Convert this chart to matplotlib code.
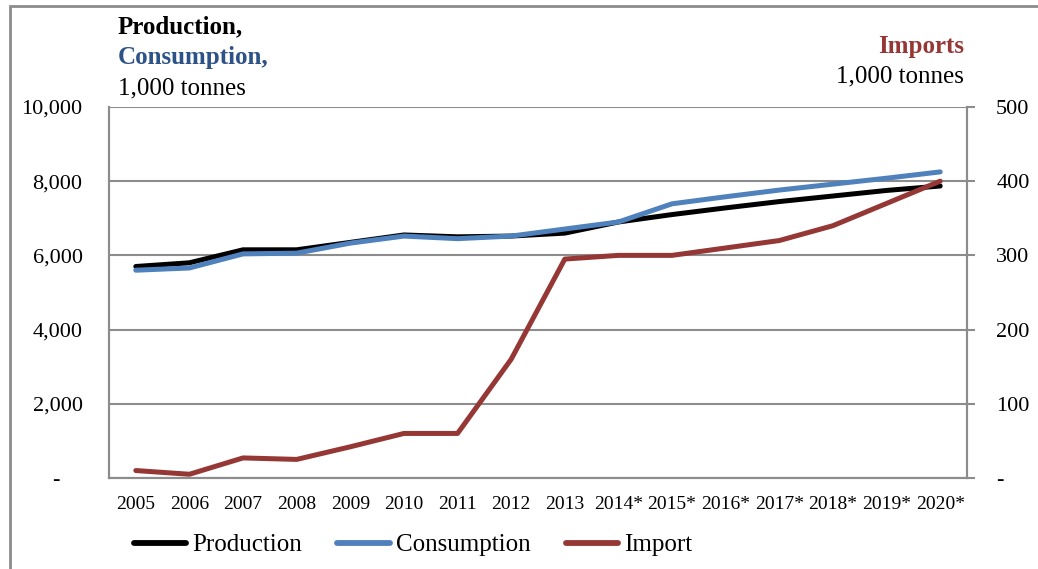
"""Production, consumption and imports, 2005-2020* (1,000 tonnes)."""

import matplotlib

matplotlib.use("Agg")
import matplotlib.pyplot as plt
from matplotlib.patches import Rectangle
from matplotlib.ticker import FuncFormatter

years = ["2005", "2006", "2007", "2008", "2009", "2010", "2011", "2012",
         "2013", "2014*", "2015*", "2016*", "2017*", "2018*", "2019*", "2020*"]
production = [5700, 5800, 6150, 6150, 6350, 6550, 6500, 6520,
              6600, 6900, 7100, 7280, 7450, 7600, 7750, 7870]
consumption = [5600, 5660, 6040, 6060, 6330, 6520, 6450, 6520,
               6710, 6900, 7390, 7580, 7760, 7920, 8080, 8250]
imports = [10, 5, 27, 25, 42, 60, 60, 160,
           295, 300, 300, 310, 320, 340, 370, 400]

left_ticks = [0, 2000, 4000, 6000, 8000, 10000]
right_ticks = [0, 100, 200, 300, 400, 500]

GRAY = "#8c8c8c"
BLACK = "#000000"
BLUE = "#4f81bd"
RED = "#953735"
DARK_BLUE = "#2c5287"

plt.rcParams["font.family"] = ["Liberation Serif", "DejaVu Serif"]

fig = plt.figure(figsize=(10.38, 5.69), dpi=100)
ax = fig.add_axes([0.105, 0.160, 0.8266, 0.652])
ax2 = ax.twinx()

ax.plot(years, production, color=BLACK, linewidth=3.6, label="Production",
        solid_capstyle="round", zorder=3)
ax.plot(years, consumption, color=BLUE, linewidth=3.6, label="Consumption",
        solid_capstyle="round", zorder=4)
ax2.plot(years, imports, color=RED, linewidth=3.6, label="Import",
         solid_capstyle="round", zorder=5)

ax.set_xlim(-0.5, len(years) - 0.5)
ax.set_ylim(0, 10000)
ax2.set_ylim(0, 500)
ax.set_yticks(left_ticks)
ax2.set_yticks(right_ticks)

ax.yaxis.set_major_formatter(FuncFormatter(lambda v, _: "-    " if v == 0 else f"{v:,.0f}"))
ax2.yaxis.set_major_formatter(FuncFormatter(lambda v, _: "-" if v == 0 else f"{v:,.0f}"))

ax.grid(True, axis="y", color=GRAY, linewidth=1.5)
ax.set_axisbelow(True)

for a in (ax, ax2):
    a.spines["top"].set_visible(False)
    for side in ("left", "right", "bottom"):
        a.spines[side].set_color(GRAY)
        a.spines[side].set_linewidth(1.5)

ax.tick_params(axis="y", length=0, pad=19, labelsize=16)
ax.tick_params(axis="x", length=0, pad=13, labelsize=14)
ax2.tick_params(axis="y", length=6, width=1.5, color=GRAY, pad=15, labelsize=16)

# axis headings
fig.text(0.1137, 0.953, "Production,", fontsize=18, fontweight="bold",
         color=BLACK, va="center")
fig.text(0.1137, 0.899, "Consumption,", fontsize=18, fontweight="bold",
         color=DARK_BLUE, va="center")
fig.text(0.1137, 0.845, "1,000 tonnes", fontsize=18, color=BLACK, va="center")
fig.text(0.929, 0.919, "Imports", fontsize=18, fontweight="bold",
         color=RED, va="center", ha="right")
fig.text(0.929, 0.866, "1,000 tonnes", fontsize=18, color=BLACK,
         va="center", ha="right")

handles = ax.get_lines() + ax2.get_lines()
leg = fig.legend(handles, [h.get_label() for h in handles], loc="center",
                 bbox_to_anchor=(0.398, 0.042), ncol=3, frameon=False,
                 fontsize=18, handlelength=2.1, handletextpad=0.25, columnspacing=1.4)
for line in leg.get_lines():
    line.set_linewidth(4.2)

# outer chart frame
fig.add_artist(Rectangle((0.0096, -0.2), 1.5, 1.1895, transform=fig.transFigure,
                         fill=False, edgecolor=GRAY, linewidth=2.0))

fig.savefig("out.png", dpi=100, facecolor="white")
